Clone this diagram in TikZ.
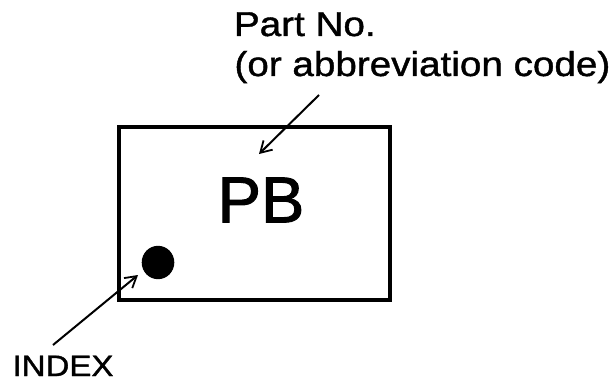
\documentclass[tikz,border=0pt]{standalone}
\usepackage{fontspec}
\setmainfont{Liberation Sans}
\newfontfamily\lblfont[FakeStretch=1.12, FakeBold=1.2]{Liberation Sans}
\newfontfamily\pbfont[FakeBold=1.5]{Liberation Sans}
\usetikzlibrary{arrows.meta}
\tikzset{
  lbl/.style={inner sep=0pt, outer sep=0pt, font=\lblfont\fontsize{34.5}{40}\selectfont},
  idx/.style={inner sep=0pt, outer sep=0pt, font=\lblfont\fontsize{29.5}{34}\selectfont},
  ptr/.style={line width=2pt, -{Straight Barb[length=11pt, width=13pt, line width=1.8pt]}},
  chip/.style={draw, line width=4.3pt, minimum width=270.5pt, minimum height=173pt, inner sep=0pt},
}
\begin{document}
\begin{tikzpicture}[x=1pt, y=-1pt]
\useasboundingbox (0,0) rectangle (613,385);
\node[chip] (box) at (254.5,213.5) {};
\node[inner sep=0pt, font=\pbfont\fontsize{65}{70}\selectfont] (pb) at (261,200) {PB};
\fill (158,262.5) circle[x radius=16.3pt, y radius=16.7pt];
\node[coordinate] (dot) at (158,262.5) {};
\node[lbl, anchor=base west] (part1) at (234,36) {Part No.};
\node[lbl, anchor=base west] (part2) at (234.5,76) {(or abbreviation code)};
\coordinate (p2s) at (319,95);
\coordinate (p2e) at (259,154);
\draw[ptr] (p2s) -- (p2e);
\node[idx, anchor=base west] (index) at (12.5,376) {INDEX};
\coordinate (ixs) at (53,345);
\coordinate (ixe) at (138,275);
\draw[ptr] (ixs) -- (ixe);
\end{tikzpicture}
\end{document}
